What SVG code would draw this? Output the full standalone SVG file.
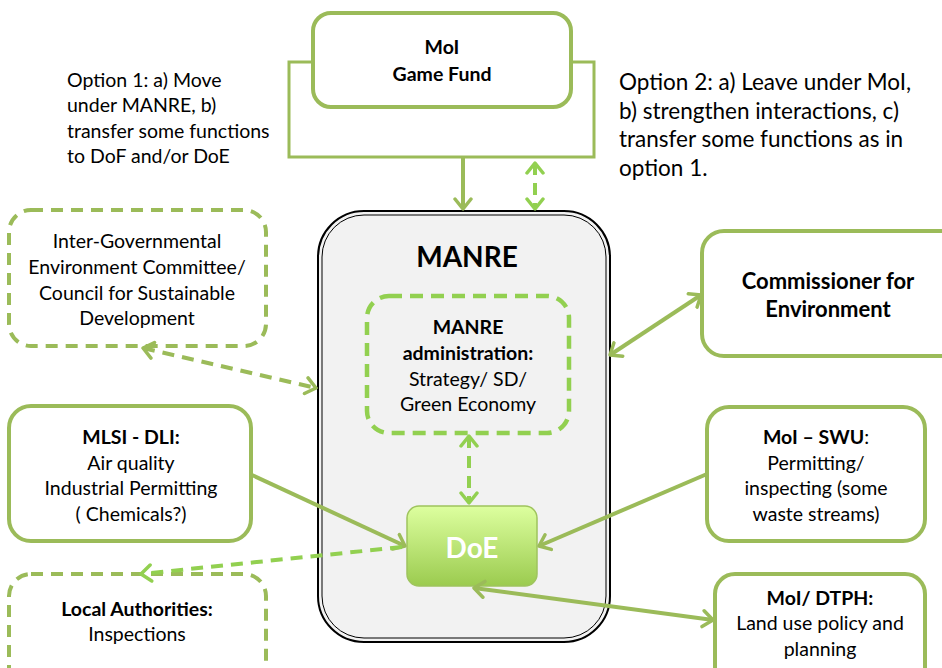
<svg xmlns="http://www.w3.org/2000/svg" width="942" height="668" viewBox="0 0 942 668">
  <style>
    text { font-family: Lato, "Open Sans", "Liberation Sans", sans-serif; fill: #000; text-anchor: middle; }
    .b { font-weight: bold; }
    .box { fill: #fff; stroke: #9BBB59; stroke-width: 4; }
    .dbox { fill: #fff; stroke: #9BBB59; stroke-width: 4; stroke-dasharray: 12 8; }
    .olive { fill: none; stroke: #9BBB59; stroke-width: 4; }
    .lime { fill: none; stroke: #92D050; stroke-width: 4; }
    .dash { stroke-dasharray: 12 8; }
    .opt { text-anchor: start; }
  </style>
  <defs>
    <linearGradient id="doeFill" x1="0" y1="0" x2="0" y2="1">
      <stop offset="0" stop-color="#ddff9f"/>
      <stop offset="1" stop-color="#9bcb4f"/>
    </linearGradient>
    <marker id="headOlive" viewBox="-12 -10 14 20" markerWidth="14" markerHeight="20" refX="0" refY="0" orient="auto-start-reverse" markerUnits="userSpaceOnUse">
      <polyline points="-10,-8 0,0 -10,8" fill="none" stroke="#9BBB59" stroke-width="3.5" stroke-linecap="round" stroke-linejoin="round"/>
    </marker>
    <marker id="headLime" viewBox="-12 -10 14 20" markerWidth="14" markerHeight="20" refX="0" refY="0" orient="auto-start-reverse" markerUnits="userSpaceOnUse">
      <polyline points="-10,-8 0,0 -10,8" fill="none" stroke="#92D050" stroke-width="3.5" stroke-linecap="round" stroke-linejoin="round"/>
    </marker>
  </defs>

  <!-- MoI Game Fund with its frame -->
  <g id="moi-game-fund">
    <rect x="289" y="62" width="305" height="95" fill="#fff" stroke="#9BBB59" stroke-width="3"/>
    <rect class="box" x="313" y="13" width="258" height="94" rx="18"/>
    <text class="b" x="442" y="54" font-size="19.5">MoI</text>
    <text class="b" x="442" y="81" font-size="19.5">Game Fund</text>
  </g>

  <!-- option notes -->
  <g id="option-1">
    <text class="opt" x="67" y="87" font-size="19.5">Option 1: a) Move</text>
    <text class="opt" x="67" y="112" font-size="19.5">under MANRE, b)</text>
    <text class="opt" x="67" y="138" font-size="19.5">transfer some functions</text>
    <text class="opt" x="67" y="163" font-size="19.5">to DoF and/or DoE</text>
  </g>
  <g id="option-2">
    <text class="opt" x="619" y="90" font-size="22.5">Option 2: a) Leave under MoI,</text>
    <text class="opt" x="619" y="119" font-size="22.5">b) strengthen interactions, c)</text>
    <text class="opt" x="619" y="147" font-size="22.5">transfer some functions as in</text>
    <text class="opt" x="619" y="176" font-size="22.5">option 1.</text>
  </g>

  <!-- MANRE container -->
  <g id="manre">
    <rect x="318" y="211" width="292" height="431" rx="46" fill="#f2f2f2" stroke="#000" stroke-width="2"/>
    <rect x="322" y="215" width="284" height="423" rx="42" fill="none" stroke="#000" stroke-width="1"/>
    <text class="b" x="467" y="267" font-size="28">MANRE</text>
  </g>

  <g id="manre-admin">
    <rect x="367" y="296" width="202" height="137" rx="22" fill="none" stroke="#92D050" stroke-width="4.5" stroke-dasharray="13 8"/>
    <text class="b" x="468" y="334" font-size="19.5">MANRE</text>
    <text class="b" x="468" y="360" font-size="19.5">administration:</text>
    <text x="468" y="386" font-size="19.5">Strategy/ SD/</text>
    <text x="468" y="411" font-size="19.5">Green Economy</text>
  </g>

  <g id="doe">
    <rect x="407" y="506" width="130" height="80" rx="12" fill="url(#doeFill)" stroke="#9fc45e" stroke-width="1.5"/>
    <text class="b" x="472" y="558" font-size="28" style="fill:#fff">DoE</text>
  </g>

  <!-- outside bodies -->
  <g id="inter-governmental">
    <rect class="dbox" x="9" y="210" width="257" height="136" rx="22"/>
    <text x="137" y="248" font-size="19.5">Inter-Governmental</text>
    <text x="137" y="274" font-size="19.5">Environment Committee/</text>
    <text x="137" y="300" font-size="19.5">Council for Sustainable</text>
    <text x="137" y="325" font-size="19.5">Development</text>
  </g>

  <g id="mlsi-dli">
    <rect class="box" x="9" y="406" width="242" height="135" rx="22"/>
    <text class="b" x="131" y="444" font-size="19.5">MLSI - DLI:</text>
    <text x="131" y="470" font-size="19.5">Air quality</text>
    <text x="131" y="495" font-size="19.5">Industrial Permitting</text>
    <text x="131" y="521" font-size="19.5">( Chemicals?)</text>
  </g>

  <g id="local-authorities">
    <rect class="dbox" x="9" y="574" width="257" height="120" rx="22"/>
    <text class="b" x="137" y="616" font-size="19.5">Local Authorities:</text>
    <text x="137" y="641" font-size="19.5">Inspections</text>
  </g>

  <g id="commissioner">
    <rect class="box" x="702" y="231" width="260" height="125" rx="22"/>
    <text class="b" x="828" y="289" font-size="22">Commissioner for</text>
    <text class="b" x="828" y="317" font-size="22">Environment</text>
  </g>

  <g id="moi-swu">
    <rect class="box" x="707" y="407" width="218" height="134" rx="22"/>
    <text x="816" y="444" font-size="19.5"><tspan class="b">MoI – SWU</tspan>:</text>
    <text x="816" y="470" font-size="19.5">Permitting/</text>
    <text x="816" y="495" font-size="19.5">inspecting (some</text>
    <text x="816" y="521" font-size="19.5">waste streams)</text>
  </g>

  <g id="moi-dtph">
    <rect class="box" x="715" y="574" width="210" height="120" rx="20"/>
    <text class="b" x="820" y="605" font-size="19.5">MoI/ DTPH:</text>
    <text x="820" y="630" font-size="19.5">Land use policy and</text>
    <text x="820" y="656" font-size="19.5">planning</text>
  </g>

  <!-- connectors -->
  <g id="connectors">
    <line class="olive" x1="463" y1="157" x2="463" y2="209" marker-end="url(#headOlive)"/>
    <line class="lime dash" x1="535" y1="163" x2="535" y2="209" stroke-width="3" stroke-dasharray="8 6" marker-start="url(#headLime)" marker-end="url(#headLime)"/>
    <line class="lime dash" x1="469" y1="436" x2="469" y2="503" marker-start="url(#headLime)" marker-end="url(#headLime)"/>
    <line class="olive dash" x1="143" y1="348" x2="316" y2="388" marker-start="url(#headOlive)" marker-end="url(#headOlive)"/>
    <line class="olive" x1="701" y1="295" x2="610" y2="355" marker-start="url(#headOlive)" marker-end="url(#headOlive)"/>
    <line class="olive" x1="252" y1="475" x2="405" y2="546" marker-end="url(#headOlive)"/>
    <line class="lime dash" x1="402" y1="547" x2="141" y2="574" marker-end="url(#headLime)"/>
    <line class="olive" x1="707" y1="474" x2="539" y2="546" marker-end="url(#headOlive)"/>
    <line class="olive" x1="474" y1="588" x2="713" y2="620" marker-start="url(#headOlive)" marker-end="url(#headOlive)"/>
  </g>
</svg>
